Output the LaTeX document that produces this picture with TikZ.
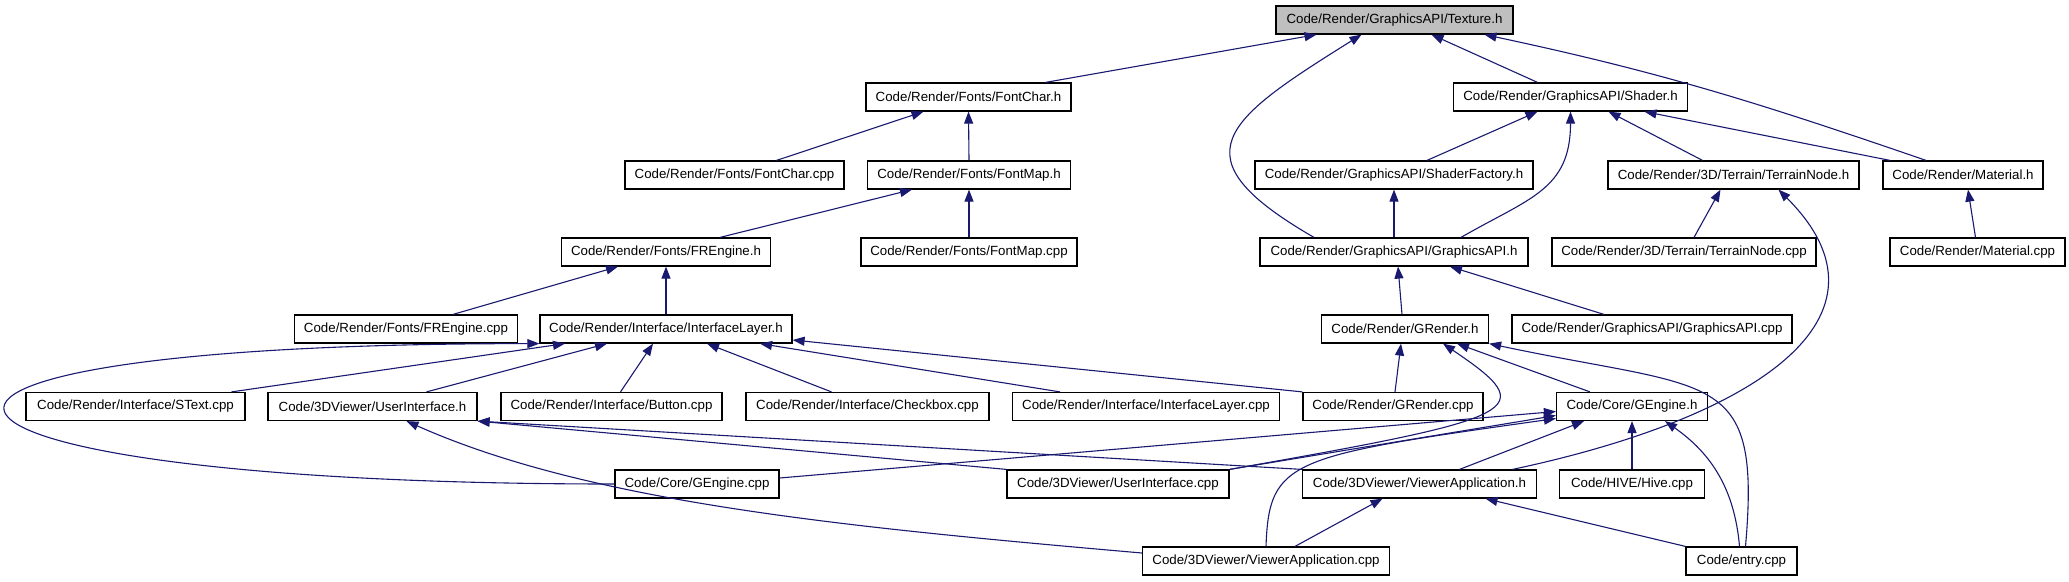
\documentclass[tikz,border=0pt]{standalone}
\usepackage{fontspec}
\setmainfont{Liberation Sans}
\usetikzlibrary{arrows.meta}

\definecolor{edgeblue}{HTML}{191970}
\definecolor{rootgray}{HTML}{BFBFBF}

\begin{document}
\begin{tikzpicture}[
  x=1pt, y=1pt,
  font=\fontsize{13.3}{15}\selectfont,
  box/.style={draw=black, line width=1.2pt, minimum height=28pt, inner sep=0pt, fill=white},
  root/.style={box, fill=rootgray},
  arr/.style={-{Triangle[length=12pt, width=9pt]}, edgeblue, line width=1.1pt}]

\useasboundingbox (0,0) rectangle (2069,-581);

% Row 0: the header everything includes
\node[root, minimum width=237pt] (tex) at (1394.5,-20) {Code/Render/GraphicsAPI/Texture.h};

% Row 1
\node[box, minimum width=205pt] (fch) at (968.5,-97) {Code/Render/Fonts/FontChar.h};
\node[box, minimum width=234pt] (shd) at (1570.5,-97) {Code/Render/GraphicsAPI/Shader.h};

% Row 2
\node[box, minimum width=219pt] (fcc) at (734.5,-175) {Code/Render/Fonts/FontChar.cpp};
\node[box, minimum width=203pt] (fmh) at (969,-175) {Code/Render/Fonts/FontMap.h};
\node[box, minimum width=278pt] (sfh) at (1394,-175) {Code/Render/GraphicsAPI/ShaderFactory.h};
\node[box, minimum width=251pt] (tnh) at (1733.5,-175) {Code/Render/3D/Terrain/TerrainNode.h};
\node[box, minimum width=160pt] (mat) at (1963,-175) {Code/Render/Material.h};

% Row 3
\node[box, minimum width=209pt] (freh) at (666,-252) {Code/Render/Fonts/FREngine.h};
\node[box, minimum width=216pt] (fmc) at (969,-252) {Code/Render/Fonts/FontMap.cpp};
\node[box, minimum width=268pt] (gah) at (1394,-252) {Code/Render/GraphicsAPI/GraphicsAPI.h};
\node[box, minimum width=264pt] (tnc) at (1684,-252) {Code/Render/3D/Terrain/TerrainNode.cpp};
\node[box, minimum width=175pt] (matc) at (1977.5,-252) {Code/Render/Material.cpp};

% Row 4
\node[box, minimum width=223pt] (frec) at (406,-329) {Code/Render/Fonts/FREngine.cpp};
\node[box, minimum width=252pt] (ilh) at (666,-329) {Code/Render/Interface/InterfaceLayer.h};
\node[box, minimum width=167pt] (grh) at (1405,-329) {Code/Render/GRender.h};
\node[box, minimum width=280pt] (gac) at (1652,-329) {Code/Render/GraphicsAPI/GraphicsAPI.cpp};

% Row 5
\node[box, minimum width=219pt] (stxt) at (135.5,-406.5) {Code/Render/Interface/SText.cpp};
\node[box, minimum width=209pt] (uih) at (372.5,-406.5) {Code/3DViewer/UserInterface.h};
\node[box, minimum width=221pt] (btn) at (611.5,-406.5) {Code/Render/Interface/Button.cpp};
\node[box, minimum width=243pt] (chk) at (867.5,-406.5) {Code/Render/Interface/Checkbox.cpp};
\node[box, minimum width=267pt] (ilc) at (1146,-406.5) {Code/Render/Interface/InterfaceLayer.cpp};
\node[box, minimum width=180pt] (grc) at (1393,-406.5) {Code/Render/GRender.cpp};
\node[box, minimum width=151pt] (geh) at (1632,-406.5) {Code/Core/GEngine.h};

% Row 6
\node[box, minimum width=164pt] (gec) at (697,-484) {Code/Core/GEngine.cpp};
\node[box, minimum width=222pt] (uic) at (1118,-484) {Code/3DViewer/UserInterface.cpp};
\node[box, minimum width=234pt] (vah) at (1419.5,-484) {Code/3DViewer/ViewerApplication.h};
\node[box, minimum width=145pt] (hive) at (1632,-484) {Code/HIVE/Hive.cpp};

% Row 7
\node[box, minimum width=247pt] (vac) at (1266,-561) {Code/3DViewer/ViewerApplication.cpp};
\node[box, minimum width=111pt] (entry) at (1741.5,-561) {Code/entry.cpp};

% Edges into Texture.h
\draw[arr] ([xshift=77pt]fch.north) -- ([xshift=-78pt]tex.south);
\draw[arr] ([xshift=-33pt]shd.north) -- ([xshift=37pt]tex.south);
\draw[arr] ([xshift=-37pt]mat.north) to[out=161, in=-12] ([xshift=90pt]tex.south);
\draw[arr] ([xshift=-80pt]gah.north) to[out=150, in=-148, out distance=162pt, in distance=162pt] ([xshift=-33pt]tex.south);

% Fonts
\draw[arr] ([xshift=42pt]fcc.north) -- ([xshift=-45pt]fch.south);
\draw[arr] (fmh.north) -- (fch.south);
\draw[arr] ([xshift=54pt]freh.north) -- ([xshift=-57pt]fmh.south);
\draw[arr] (fmc.north) -- (fmh.south);
\draw[arr] ([xshift=47pt]frec.north) -- ([xshift=-48pt]freh.south);
\draw[arr] (ilh.north) -- (freh.south);

% Shader and friends
\draw[arr] ([xshift=33pt]sfh.north) -- ([xshift=-33pt]shd.south);
\draw[arr] ([xshift=67pt]gah.north) to[out=30, in=-90, looseness=1.2] (shd.south);
\draw[arr] ([xshift=-31pt]tnh.north) -- ([xshift=38pt]shd.south);
\draw[arr] ([xshift=-73pt]mat.north) -- ([xshift=74pt]shd.south);
\draw[arr] (gah.north) -- (sfh.south);
\draw[arr] ([xshift=10pt]tnc.north) -- ([xshift=-13pt]tnh.south);
\draw[arr] ([xshift=93pt]vah.north) to[out=12, in=-45, out distance=250pt, in distance=180pt] ([xshift=45pt]tnh.south);
\draw[arr] ([xshift=-2pt]matc.north) -- ([xshift=5pt]mat.south);
\draw[arr] ([xshift=-3pt]grh.north) -- ([xshift=4pt]gah.south);
\draw[arr] ([xshift=-48pt]gac.north) -- ([xshift=56pt]gah.south);

% Into InterfaceLayer.h
\draw[arr] ([xshift=96pt]stxt.north) -- ([xshift=-101pt]ilh.south);
\draw[arr] ([xshift=54pt]uih.north) -- ([xshift=-59pt]ilh.south);
\draw[arr] ([xshift=9pt]btn.north) -- ([xshift=-13pt]ilh.south);
\draw[arr] ([xshift=-36pt]chk.north) -- ([xshift=41pt]ilh.south);
\draw[arr] ([xshift=-86pt]ilc.north) -- ([xshift=94pt]ilh.south);
\draw[arr] (grc.north west) -- ([yshift=-11pt]ilh.east);
\draw[arr] (gec.west) to[out=180, in=180, out distance=760pt, in distance=760pt] (ilh.south west);

% Into GRender.h
\draw[arr] ([xshift=2pt]grc.north) -- ([xshift=-4pt]grh.south);
\draw[arr] (uic.north east) to[out=10, in=-34, out distance=300pt, in distance=120pt] ([xshift=38pt]grh.south);
\draw[arr] ([xshift=-42pt]geh.north) -- ([xshift=52pt]grh.south);
\draw[arr] ([xshift=4pt]entry.north) to[out=85, in=-12, out distance=180pt, in distance=230pt] (grh.south east);

% Into UserInterface.h
\draw[arr] (uic.north west) -- (uih.south east);
\draw[arr] (vah.north west) -- (uih.south east);
\draw[arr] ([yshift=8pt]vac.west) to[out=175, in=-24, out distance=300pt, in distance=200pt] ([xshift=34pt]uih.south);

% Into GEngine.h
\draw[arr] ([yshift=6pt]gec.east) -- ([yshift=-5pt]geh.west);
\draw[arr] (uic.north east) -- ([yshift=-9pt]geh.west);
\draw[arr] (vac.north) to[out=88, in=-172, out distance=87pt, in distance=269pt] ([yshift=-12pt]geh.west);
\draw[arr] ([xshift=40pt]vah.north) -- ([xshift=-48pt]geh.south);
\draw[arr] (hive.north) -- (geh.south);
\draw[arr] ([xshift=-2pt]entry.north) to[out=95, in=-35] ([xshift=33pt]geh.south);

% Into ViewerApplication.h
\draw[arr] ([xshift=29pt]vac.north) -- ([xshift=-37pt]vah.south);
\draw[arr] (entry.north west) -- ([xshift=66pt]vah.south);
\end{tikzpicture}
\end{document}
